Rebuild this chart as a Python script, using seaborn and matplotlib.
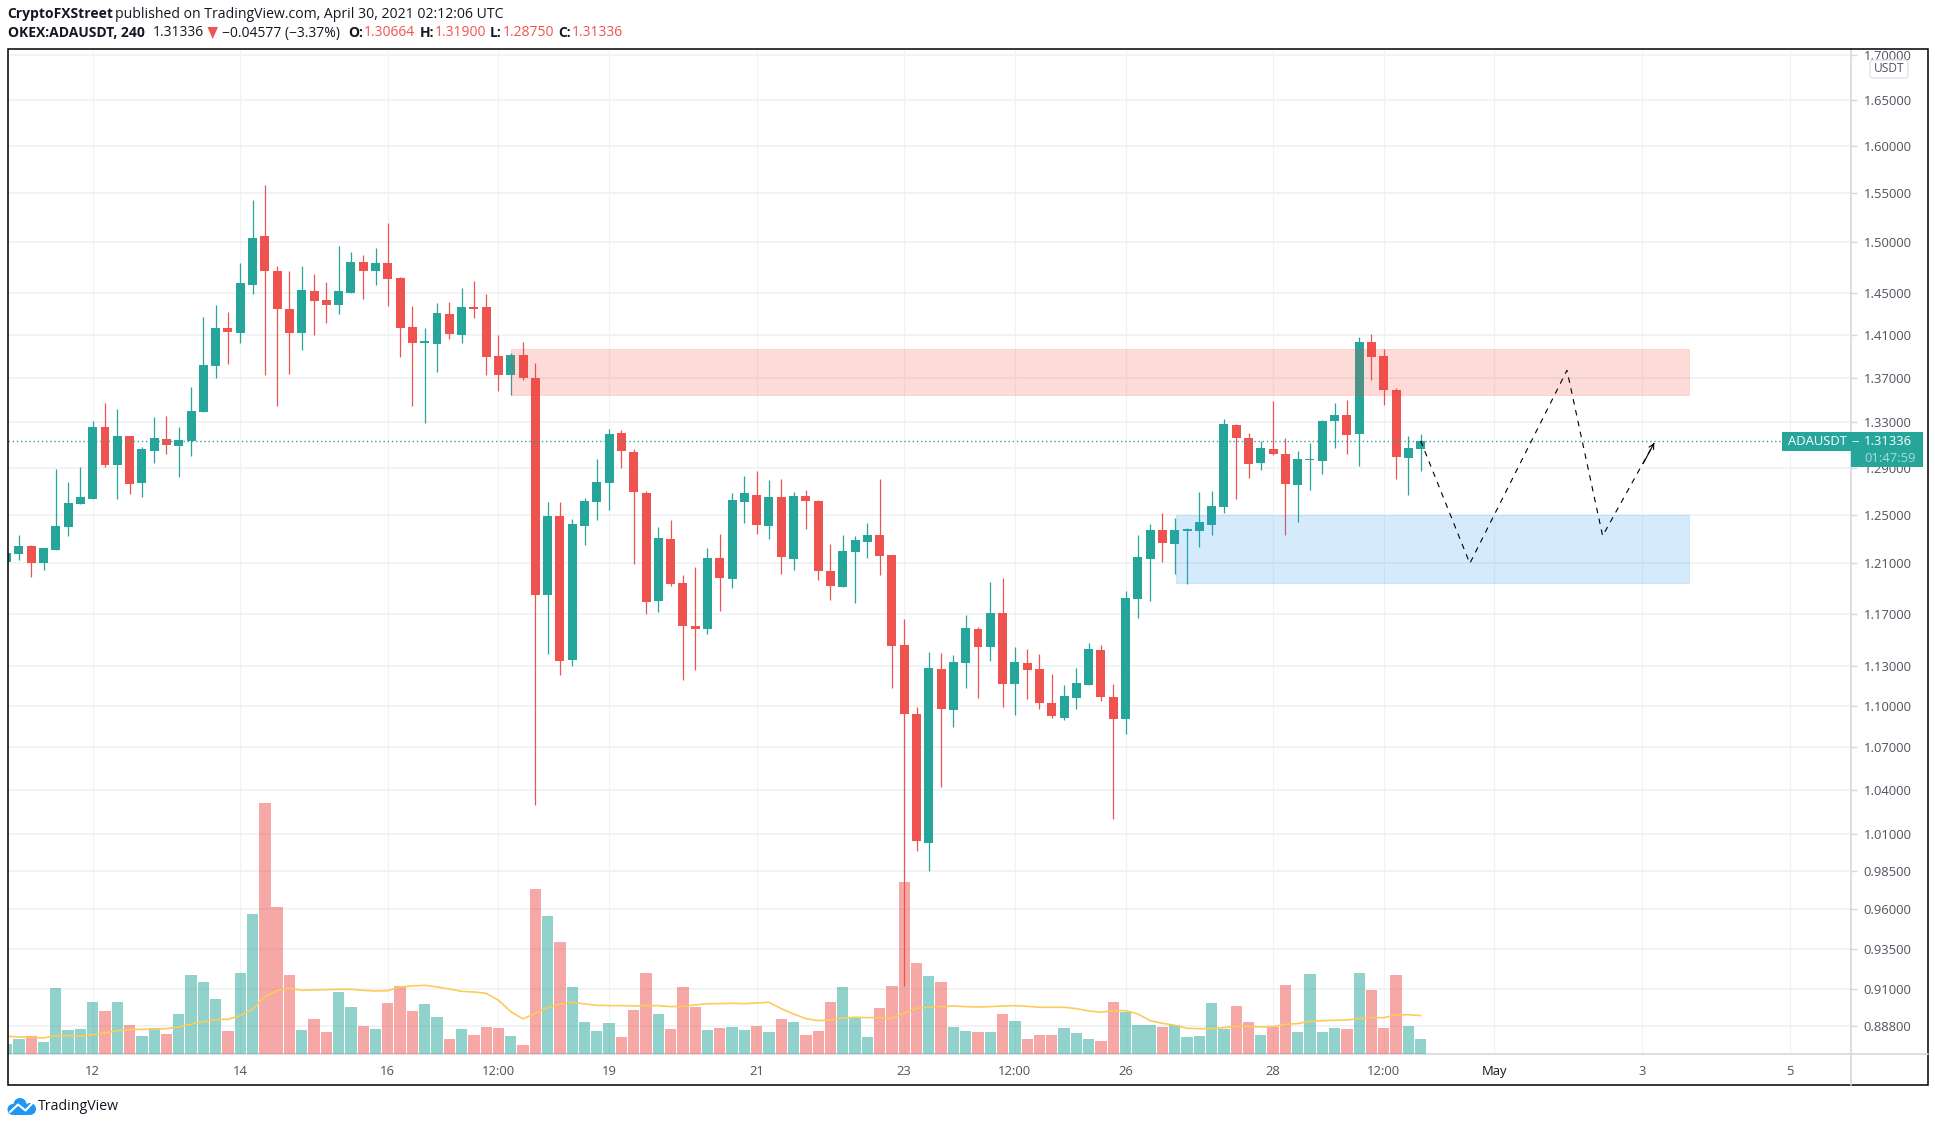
import matplotlib
matplotlib.use('Agg')
import matplotlib.pyplot as plt
from matplotlib.patches import Rectangle, FancyBboxPatch, Circle, Polygon
from matplotlib.ticker import FixedLocator, NullLocator
import numpy as np
import pandas as pd
import seaborn as sns

# candles, 4h bars. index 0 is the bar of the 12th at 00:00
first_bar = -7
opens = [1.2114, 1.2176, 1.2242, 1.2103, 1.2209, 1.2397, 1.2588, 1.2630, 1.3259, 1.2920,
         1.3172, 1.2766, 1.3042, 1.3146, 1.3085, 1.3129, 1.3386, 1.3808, 1.4160, 1.4113,
         1.4573, 1.5065, 1.4714, 1.4341, 1.4113, 1.4513, 1.4427, 1.4380, 1.4494, 1.4804,
         1.4714, 1.4794, 1.4644, 1.4170, 1.4019, 1.4010, 1.4294, 1.4094, 1.4360, 1.4360,
         1.3899, 1.3722, 1.3909, 1.3694, 1.1846, 1.2486, 1.1341, 1.2405, 1.2605, 1.2766,
         1.3207, 1.3033, 1.2682, 1.1799, 1.2299, 1.1942, 1.1603, 1.1580, 1.2143, 1.1975,
         1.2605, 1.2665, 1.2405, 1.2647, 1.2135, 1.2656, 1.2613, 1.2039, 1.1910, 1.2193,
         1.2274, 1.2331, 1.2168, 1.1454, 1.0938, 1.0035, 1.1272, 1.0967, 1.1318, 1.1580,
         1.1441, 1.1703, 1.1160, 1.1318, 1.1272, 1.1025, 1.0910, 1.1055, 1.1153, 1.1418,
         1.1063, 1.0902, 1.1815, 1.2135, 1.2372, 1.2258, 1.2364, 1.2364, 1.2413, 1.2562,
         1.3277, 1.3155, 1.2938, 1.3059, 1.3016, 1.2750, 1.2964, 1.2955, 1.3312, 1.3364,
         1.3197, 1.4035, 1.3897, 1.3584, 1.2981, 1.30664]
highs = [1.2190, 1.2331, 1.2250, 1.2225, 1.2886, 1.2775, 1.2903, 1.3312, 1.3474, 1.3416,
         1.3172, 1.3077, 1.3347, 1.3356, 1.3259, 1.3612, 1.4265, 1.4380, 1.4313, 1.4794,
         1.5432, 1.5585, 1.4764, 1.4714, 1.4764, 1.4683, 1.4603, 1.4963, 1.4903, 1.4873,
         1.4943, 1.5197, 1.4654, 1.4370, 1.4160, 1.4399, 1.4408, 1.4543, 1.4613, 1.4484,
         1.4094, 1.3927, 1.4031, 1.3834, 1.2605, 1.2605, 1.2463, 1.2639, 1.2972, 1.3242,
         1.3233, 1.3059, 1.2698, 1.2397, 1.2454, 1.2006, 1.2071, 1.2225, 1.2339, 1.2682,
         1.2826, 1.2869, 1.2792, 1.2801, 1.2690, 1.2707, 1.2622, 1.2258, 1.2331, 1.2323,
         1.2429, 1.2801, 1.2168, 1.1656, 1.0995, 1.1407, 1.1399, 1.1379, 1.1687, 1.1595,
         1.1951, 1.1983, 1.1441, 1.1426, 1.1388, 1.1235, 1.1153, 1.1280, 1.1475, 1.1457,
         1.1160, 1.1877, 1.2331, 1.2421, 1.2511, 1.2470, 1.2388, 1.2690, 1.2698, 1.3329,
         1.3285, 1.3207, 1.3129, 1.3492, 1.3155, 1.3042, 1.3111, 1.3320, 1.3474, 1.3493,
         1.4082, 1.4109, 1.3961, 1.3602, 1.3179, 1.3190]
lows = [1.2105, 1.2127, 1.1991, 1.2047, 1.2209, 1.2323, 1.2588, 1.2630, 1.2903, 1.2630,
        1.2673, 1.2647, 1.2938, 1.3016, 1.2818, 1.3000, 1.3386, 1.3697, 1.3827, 1.4019,
        1.4484, 1.3722, 1.3447, 1.3731, 1.3954, 1.4094, 1.4208, 1.4294, 1.4494, 1.4437,
        1.4573, 1.4370, 1.3890, 1.3447, 1.3294, 1.3750, 1.4057, 1.4019, 1.4256, 1.3722,
        1.3575, 1.3538, 1.3676, 1.0293, 1.1388, 1.1228, 1.1295, 1.2250, 1.2454, 1.2537,
        1.2894, 1.2095, 1.1695, 1.1710, 1.1918, 1.1190, 1.1265, 1.1541, 1.1719, 1.1903,
        1.2429, 1.2339, 1.2299, 1.2015, 1.2047, 1.2380, 1.1967, 1.1807, 1.1910, 1.1783,
        1.2143, 1.2006, 1.1130, 0.9122, 0.9981, 0.9852, 1.0417, 1.0845, 1.1130, 1.1055,
        1.1333, 1.0995, 1.0931, 1.1048, 1.0974, 1.0910, 1.0895, 1.0974, 1.1153, 1.1033,
        1.0198, 1.0795, 1.1664, 1.1799, 1.2111, 1.2015, 1.1934, 1.2233, 1.2331, 1.2511,
        1.2630, 1.2809, 1.2877, 1.3007, 1.2331, 1.2437, 1.2707, 1.2843, 1.3067, 1.3015,
        1.2911, 1.3676, 1.3456, 1.2800, 1.2663, 1.2875]
closes = [1.2184, 1.2242, 1.2103, 1.2225, 1.2405, 1.2596, 1.2647, 1.3259, 1.2920, 1.3172,
          1.2758, 1.3059, 1.3155, 1.3094, 1.3137, 1.3402, 1.3815, 1.4160, 1.4122, 1.4593,
          1.5044, 1.4714, 1.4341, 1.4113, 1.4523, 1.4418, 1.4380, 1.4513, 1.4804, 1.4714,
          1.4794, 1.4634, 1.4160, 1.4019, 1.4037, 1.4303, 1.4103, 1.4360, 1.4341, 1.3890,
          1.3722, 1.3909, 1.3694, 1.1846, 1.2486, 1.1333, 1.2421, 1.2613, 1.2775, 1.3198,
          1.3042, 1.2690, 1.1791, 1.2307, 1.1934, 1.1603, 1.1580, 1.2143, 1.1983, 1.2622,
          1.2682, 1.2413, 1.2647, 1.2152, 1.2656, 1.2613, 1.2039, 1.1918, 1.2201, 1.2291,
          1.2331, 1.2160, 1.1446, 1.0938, 1.0048, 1.1280, 1.0974, 1.1326, 1.1587, 1.1441,
          1.1703, 1.1160, 1.1326, 1.1265, 1.1025, 1.0924, 1.1070, 1.1168, 1.1426, 1.1063,
          1.0902, 1.1823, 1.2152, 1.2372, 1.2266, 1.2372, 1.2380, 1.2437, 1.2571, 1.3285,
          1.3155, 1.2929, 1.3068, 1.3016, 1.2758, 1.2972, 1.2972, 1.3312, 1.3366, 1.3187,
          1.4035, 1.3887, 1.3584, 1.2989, 1.3075, 1.31336]

# volume, same bars
volumes = [31, 46, 55, 37, 199, 73, 76, 157, 130, 157, 88, 55, 79, 61, 121, 238, 217, 166, 70, 244,
           421, 754, 442, 238, 73, 106, 67, 187, 142, 85, 76, 154, 205, 130, 151, 112, 46, 76, 58, 82,
           79, 55, 28, 496, 415, 337, 202, 97, 70, 94, 52, 133, 244, 121, 76, 202, 142, 73, 79, 82,
           73, 85, 67, 106, 97, 58, 70, 157, 202, 109, 52, 139, 205, 517, 274, 235, 217, 82, 70, 67,
           67, 121, 100, 46, 58, 58, 79, 64, 46, 40, 157, 127, 88, 88, 82, 88, 52, 55, 154, 76,
           145, 97, 58, 82, 208, 67, 241, 67, 79, 76, 244, 193, 79, 238, 85, 46]
volume_ma = [54, 52, 51, 49, 56, 56, 55, 59, 64, 71, 74, 75, 75, 77, 82, 90, 98, 104, 105, 116,
             136, 173, 191, 198, 192, 193, 194, 195, 195, 192, 190, 191, 202, 205, 207, 202, 196, 189, 187, 183,
             162, 128, 106, 123, 140, 151, 156, 151, 147, 146, 146, 145, 146, 146, 143, 144, 148, 152, 152, 153,
             152, 154, 156, 137, 121, 107, 101, 103, 109, 111, 110, 110, 108, 123, 138, 141, 143, 145, 143, 142,
             143, 145, 146, 144, 141, 141, 141, 137, 130, 126, 131, 131, 121, 101, 93, 87, 78, 77, 77, 80,
             84, 84, 82, 83, 90, 92, 99, 101, 102, 103, 107, 110, 110, 118, 119, 116]

# drawn zones and the projected path
supply_zone = (34, 129.8, 1.3541, 1.3968)
demand_zone = (88.1, 129.8, 1.1941, 1.25)
path_x = [108, 112, 119.9, 122.8, 127.0]
path_y = [1.3134, 1.21, 1.3768, 1.2325, 1.3116]
last_price = 1.31336

price_ticks = [1.70, 1.65, 1.60, 1.55, 1.50, 1.45, 1.41, 1.37, 1.33, 1.29, 1.25, 1.21,
               1.17, 1.13, 1.10, 1.07, 1.04, 1.01, 0.985, 0.96, 0.935, 0.91, 0.888]
time_ticks = [0, 12, 24, 33, 42, 54, 66, 75, 84, 96, 105, 114, 126, 138]
time_labels = ['12', '14', '16', '12:00', '19', '21', '23', '12:00', '26', '28', '12:00', 'May', '3', '5']

TEAL = '#26a69a'
RED = '#ef5350'
TEXT = '#50535e'
DARK = '#131722'
GRID = '#f1f2f5'
EDGE = '#d6d8de'

sns.set_theme(style='white')
plt.rcParams['font.family'] = ['Open Sans', 'DejaVu Sans']

df = pd.DataFrame({'open': opens, 'high': highs, 'low': lows, 'close': closes,
                   'volume': volumes, 'ma': volume_ma})
df['bar'] = np.arange(len(df)) + first_bar
df['up'] = df.close >= df.open
df['side'] = np.where(df.up, 'up', 'down')

W, H = 1935, 1127
fig = plt.figure(figsize=(W / 100, H / 100), dpi=100, facecolor='white')
left, right, top, bottom = 7.5, 1851, 49, 1054.3
rect = [left / W, 1 - bottom / H, (right - left) / W, (bottom - top) / H]

xlim = (-6.93, 143.0)
ylim = (0.8714, 1.7068)

# grid and axes at the back, volume over it, candles on top
ax = fig.add_axes(rect, zorder=1)
ax.set_xlim(xlim)
ax.set_yscale('log')
ax.set_ylim(ylim)
ax.yaxis.set_major_locator(FixedLocator(price_ticks))
ax.yaxis.set_minor_locator(NullLocator())
ax.set_yticklabels(['%.5f' % t for t in price_ticks])
ax.yaxis.tick_right()
ax.set_xticks(time_ticks)
ax.set_xticklabels(time_labels)
ax.tick_params(axis='y', length=4, width=1, color=EDGE, labelsize=9.4, labelcolor=TEXT, pad=5)
ax.tick_params(axis='x', length=3, width=1, color=EDGE, labelsize=9.4, labelcolor=TEXT, pad=4.5)
ax.get_xticklabels()[time_labels.index('May')].set_color(DARK)
ax.grid(True, axis='y', color=GRID, lw=1.3)
ax.grid(True, axis='x', color=GRID, lw=0.8)
ax.set_axisbelow(True)
for name, spine in ax.spines.items():
    spine.set_visible(name in ('bottom', 'right'))
    spine.set_color(EDGE)
    spine.set_linewidth(1.2)

ax_vol = fig.add_axes(rect, zorder=2, facecolor='none')
sns.barplot(data=df, x='bar', y='volume', hue='side', palette={'up': TEAL, 'down': RED},
            native_scale=True, dodge=False, width=0.92, gap=0, saturation=1, alpha=0.5,
            linewidth=0, legend=False, ax=ax_vol)
sns.lineplot(data=df, x='bar', y='ma', color='#fdca5c', lw=1.2, ax=ax_vol)
ax_vol.set_xlim(xlim)
ax_vol.set_ylim(0, 3016)
ax_vol.axis('off')

ax_c = fig.add_axes(rect, zorder=3, facecolor='none')
ax_c.set_yscale('log')
for up, color in [(True, TEAL), (False, RED)]:
    part = df.loc[df.up == up]
    ax_c.vlines(part.bar, part.low, part.high, color=color, lw=0.9)
    body_low = part[['open', 'close']].min(axis=1)
    body_high = part[['open', 'close']].max(axis=1)
    ax_c.bar(part.bar, body_high - body_low, bottom=body_low, width=0.73, color=color, lw=0)

ax_c.axhline(last_price, color=TEAL, lw=1, ls=(0, (1, 2)))

for zone, color in [(supply_zone, '#f44336'), (demand_zone, '#2196f3')]:
    x0, x1, y0, y1 = zone
    ax_c.add_patch(Rectangle((x0, y0), x1 - x0, y1 - y0, facecolor=color, edgecolor=color,
                             alpha=0.19, lw=0.6, zorder=5))

sns.lineplot(x=path_x, y=path_y, sort=False, estimator=None, color='black', lw=0.8,
             linestyle=(0, (5, 5)), zorder=6, ax=ax_c)
ax_c.annotate('', xy=(path_x[-1], path_y[-1]), xytext=(path_x[-1] - 0.9, path_y[-1] - 0.018),
              arrowprops=dict(arrowstyle='->', color='black', lw=0.8, mutation_scale=9,
                              shrinkA=0, shrinkB=0), zorder=6)
ax_c.set_xlim(xlim)
ax_c.set_ylim(ylim)
ax_c.axis('off')

# everything around the chart, in image pixels
over = fig.add_axes([0, 0, 1, 1], zorder=10, facecolor='none')
over.set_xlim(0, W)
over.set_ylim(H, 0)
over.axis('off')

over.plot([right, 1927.7], [bottom, bottom], color=EDGE, lw=1.2)
over.plot([right, right], [bottom, 1085], color=EDGE, lw=1.2)
over.add_patch(Rectangle((left, top), 1927.7 - left, 1085 - top, fill=False, edgecolor='black', lw=1.1))

# price label
over.add_patch(Rectangle((1782, 432), 1922.7 - 1782, 18.7, facecolor=TEAL, lw=0))
over.add_patch(Rectangle((1851, 450), 1922.7 - 1851, 16.7, facecolor=TEAL, lw=0))
over.text(1788, 441.5, 'ADAUSDT', color='white', fontsize=9.4, va='center')
over.text(1851.5, 441.5, '\u2212', color='white', fontsize=9.4, va='center')
over.text(1864, 441.5, '1.31336', color='white', fontsize=9.4, va='center')
over.text(1864, 459, '01:47:59', color='#a8dcd7', fontsize=9.4, va='center')

# currency tag
over.add_patch(FancyBboxPatch((1872, 62), 34, 14, boxstyle='round,pad=2,rounding_size=3',
                              facecolor='white', edgecolor='#e0e3eb', lw=1))
over.text(1889, 69, 'USDT', color=TEXT, fontsize=8.6, ha='center', va='center')

# header
over.text(7.5, 14, 'CryptoFXStreet', color=DARK, fontsize=10.0, fontweight='bold', va='center')
over.text(115, 14, 'published on TradingView.com, April 30, 2021 02:12:06 UTC', color=DARK,
          fontsize=10.1, va='center')
over.text(7.5, 33, 'OKEX:ADAUSDT, 240', color=DARK, fontsize=10.0, fontweight='bold', va='center')
over.text(153, 33, '1.31336', color=DARK, fontsize=10.0, va='center')
over.add_patch(Polygon([[207.5, 27], [218, 27], [212.7, 39]], facecolor=RED, lw=0))
over.text(222, 33, '\u22120.04577 (\u22123.37%)', color=DARK, fontsize=10.0, va='center')
for x, label, x_val, value in [(348, 'O:', 364, '1.30664'), (420, 'H:', 435, '1.31900'),
                               (490, 'L:', 503, '1.28750'), (558.5, 'C:', 572, '1.31336')]:
    over.text(x, 33, label, color=DARK, fontsize=10.0, fontweight='bold', va='center')
    over.text(x_val, 33, value, color=RED, fontsize=10.0, va='center')

# logo
LOGO = '#2196f3'
for cx, cy, r in [(13, 1109.5, 5.5), (20, 1104.5, 6.5), (30, 1109, 6)]:
    over.add_patch(Circle((cx, cy), r, facecolor=LOGO, lw=0))
over.add_patch(Rectangle((13, 1107), 17, 8, facecolor=LOGO, lw=0))
over.plot([10, 18, 25.5, 32], [1112, 1104.5, 1110.5, 1103.5], color='white', lw=1.5)
over.text(38, 1106, 'TradingView', color=DARK, fontsize=10.2, va='center')

fig.savefig('out.png', dpi=100)
